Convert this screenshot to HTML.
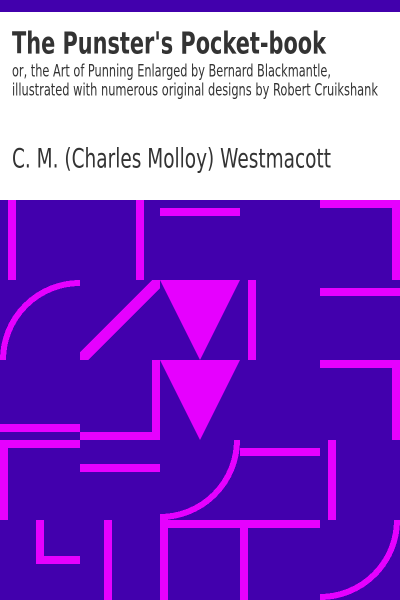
<!DOCTYPE html>
<html lang="en">
<head>
<meta charset="utf-8">
<title>The Punster's Pocket-book</title>
<style>
html,body{margin:0;padding:0;width:400px;height:600px;overflow:hidden;background:#fff}
svg{display:block}
text{fill:#333;font-family:"DejaVu Sans","Liberation Sans",sans-serif}
.p{fill:#e600ff;shape-rendering:crispEdges}
.a{fill:none;stroke:#e600ff;stroke-width:6;shape-rendering:crispEdges}
</style>
</head>
<body>
<svg xmlns="http://www.w3.org/2000/svg" width="400" height="600" viewBox="0 0 400 600">
  <rect x="0" y="0" width="400" height="600" fill="#fff"/>
  <rect x="0" y="0" width="400" height="12" fill="#4200ad" shape-rendering="crispEdges"/>
  <text x="12" y="53.3" font-size="30.5" font-weight="700" textLength="314" lengthAdjust="spacingAndGlyphs">The Punster's Pocket-book</text>
  <text x="12" y="76.5" font-size="17" textLength="319" lengthAdjust="spacingAndGlyphs">or, the Art of Punning Enlarged by Bernard Blackmantle,</text>
  <text x="12" y="95.5" font-size="17" textLength="366" lengthAdjust="spacingAndGlyphs">illustrated with numerous original designs by Robert Cruikshank</text>
  <text x="12" y="167.3" font-size="27" textLength="319" lengthAdjust="spacingAndGlyphs">C. M. (Charles Molloy) Westmacott</text>

  <g>
    <rect x="0" y="200" width="400" height="400" fill="#4200ad" shape-rendering="crispEdges"/>
    <rect class="p" x="8" y="200" width="8" height="80"/>
    <rect class="p" x="136" y="200" width="8" height="80"/>
    <rect class="p" x="160" y="208" width="80" height="8"/>
    <rect class="p" x="320" y="200" width="80" height="8"/>
    <rect class="p" x="392" y="200" width="8" height="80"/>
    <path class="a" d="M3 360A77 77 0 0 1 80 283"/>
    <polygon class="p" points="80,352 152,280 160,280 160,288 88,360 80,360"/>
    <polygon class="p" points="160,280 240,280 200,360"/>
    <rect class="p" x="248" y="280" width="8" height="80"/>
    <rect class="p" x="320" y="288" width="80" height="8"/>
    <rect class="p" x="152" y="360" width="8" height="80"/>
    <rect class="p" x="80" y="432" width="80" height="8"/>
    <polygon class="p" points="160,360 240,360 200,440"/>
    <rect class="p" x="320" y="360" width="80" height="8"/>
    <rect class="p" x="392" y="360" width="8" height="80"/>
    <rect class="p" x="0" y="424" width="80" height="8"/>
    <rect class="p" x="0" y="440" width="80" height="8"/>
    <rect class="p" x="0" y="440" width="8" height="80"/>
    <rect class="p" x="80" y="464" width="80" height="8"/>
    <rect class="p" x="36" y="520" width="8" height="44"/>
    <rect class="p" x="36" y="556" width="44" height="8"/>
    <rect class="p" x="104" y="520" width="8" height="80"/>
    <rect class="p" x="160" y="514" width="8" height="86"/>
    <path class="a" d="M237 440A77 77 0 0 1 160 517"/>
    <rect class="p" x="160" y="520" width="160" height="8"/>
    <rect class="p" x="240" y="448" width="80" height="8"/>
    <rect class="p" x="328" y="440" width="8" height="80"/>
    <rect class="p" x="240" y="528" width="8" height="72"/>
    <path class="a" d="M397 520A77 77 0 0 1 320 597"/>
  </g>
</svg>
</body>
</html>
